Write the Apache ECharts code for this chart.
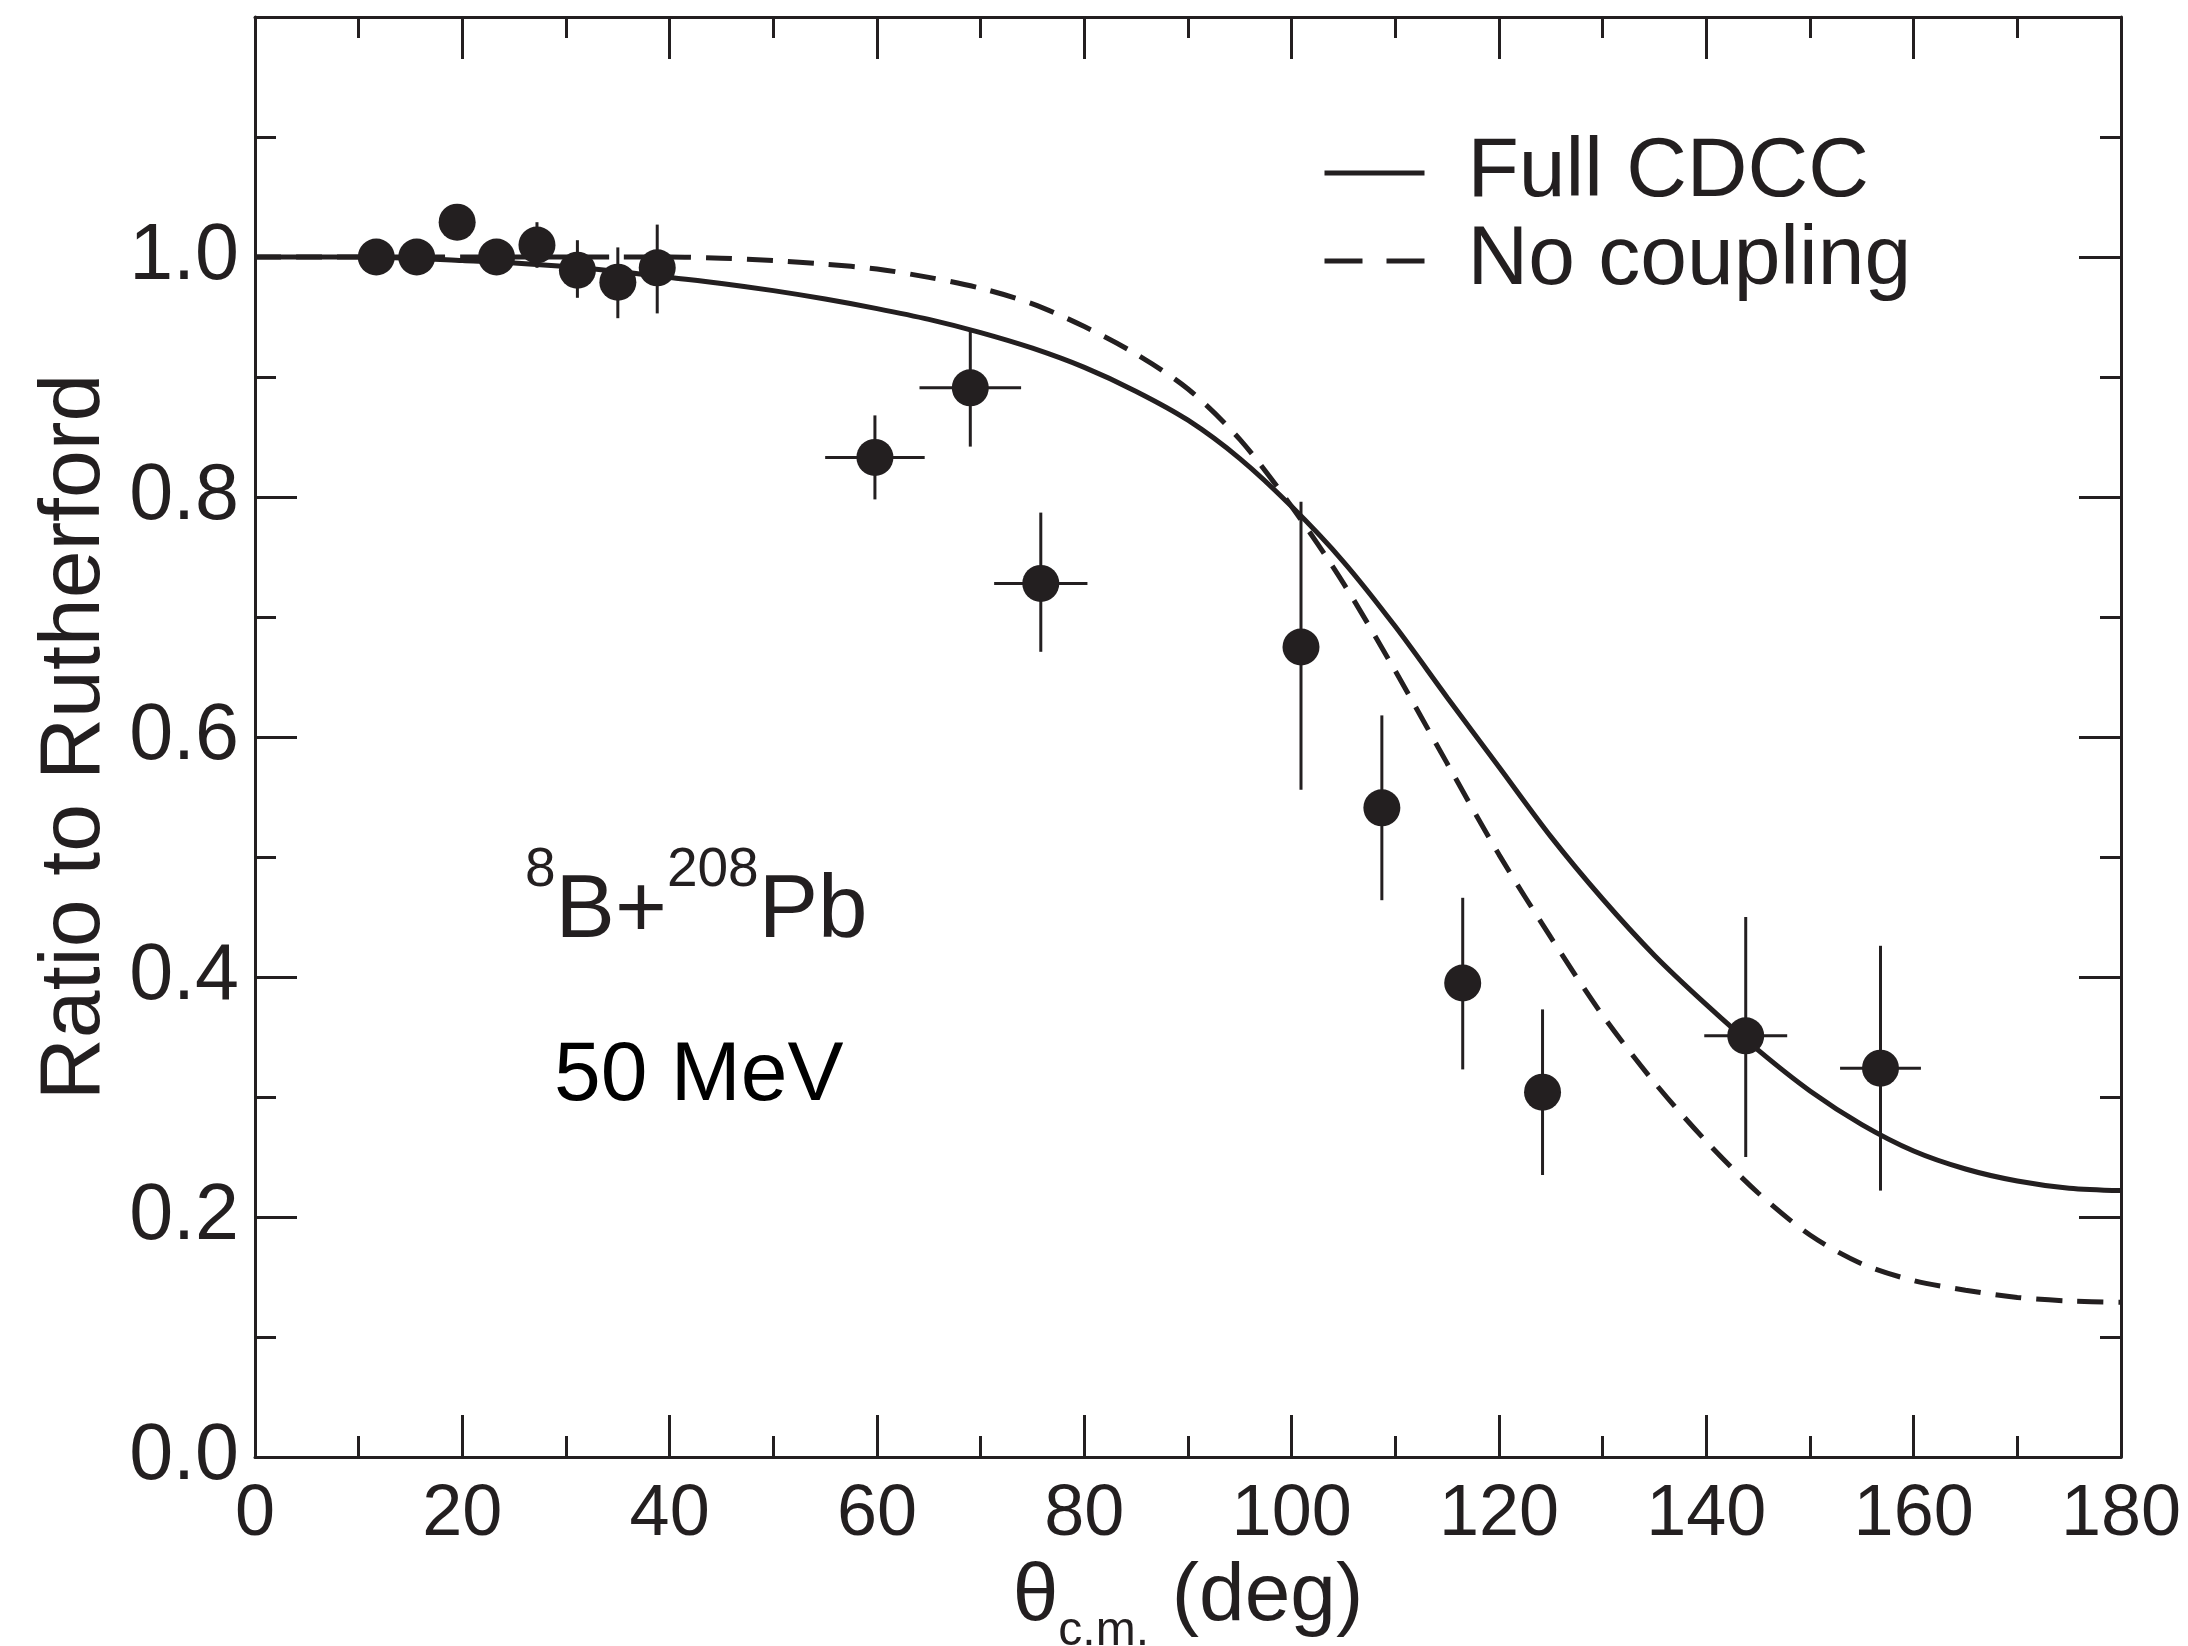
<!DOCTYPE html>
<html>
<head>
<meta charset="utf-8">
<script src="https://cdn.jsdelivr.net/npm/echarts@6/dist/echarts.min.js"></script>
<style>
  html, body { margin: 0; padding: 0; background: #fff; }
  #chart { width: 2188px; height: 1646px; }
</style>
</head>
<body>
<div id="chart"></div>
<script>
// ---- Data ----
const thetaExp  = [11.7, 15.6, 19.5, 23.3, 27.2, 31.1, 35.0, 38.8, 59.8, 69.0, 75.8, 100.9, 108.7, 116.5, 124.2, 143.8, 156.8];
const ratioExp  = [1.000, 1.000, 1.029, 1.000, 1.010, 0.989, 0.979, 0.991, 0.833, 0.891, 0.728, 0.675, 0.541, 0.395, 0.304, 0.351, 0.324];
const ratioLow  = [1.000, 1.000, 1.029, 1.000, 0.991, 0.966, 0.949, 0.953, 0.798, 0.842, 0.671, 0.556, 0.464, 0.323, 0.235, 0.250, 0.222];
const ratioHigh = [1.000, 1.000, 1.029, 1.000, 1.029, 1.014, 1.008, 1.027, 0.868, 0.939, 0.787, 0.796, 0.618, 0.466, 0.373, 0.450, 0.426];
const thetaErr  = [0, 0, 1.5, 0, 0, 0, 0, 0, 4.8, 4.9, 4.5, 0, 0, 0, 0, 4.0, 3.9];

const thetaCurve = [0, 5, 10, 15, 20, 25, 30, 35, 40, 45, 50, 55, 60, 65, 70, 75, 80, 85, 90, 95, 100, 105, 110, 115, 120, 125, 130, 135, 140, 145, 150, 155, 160, 165, 170, 175, 180];
const fullCDCC   = [1.000, 1.000, 1.000, 0.999, 0.997, 0.995, 0.992, 0.988, 0.983, 0.978, 0.972, 0.965, 0.957, 0.948, 0.937, 0.924, 0.908, 0.888, 0.864, 0.832, 0.792, 0.746, 0.692, 0.633, 0.575, 0.517, 0.465, 0.418, 0.377, 0.339, 0.305, 0.277, 0.255, 0.240, 0.230, 0.224, 0.222];
const noCoupling = [1.000, 1.000, 1.000, 1.000, 1.000, 1.000, 1.000, 1.000, 1.000, 0.999, 0.997, 0.994, 0.990, 0.983, 0.974, 0.961, 0.942, 0.919, 0.890, 0.848, 0.792, 0.728, 0.655, 0.578, 0.502, 0.433, 0.368, 0.312, 0.263, 0.220, 0.185, 0.161, 0.147, 0.139, 0.133, 0.130, 0.129];

const xTicks = { min: 0, max: 180, interval: 20 };
const yTicks = { min: 0, max: 1.2, interval: 0.2 };

// ---- Chart ----
const ink = '#231f20';
const FF = 'Liberation Sans';
const chart = echarts.init(document.getElementById('chart'), null, { renderer: 'canvas' });

const tickStyle = { color: ink, width: 3 };
function makeX(pos, showLabel, withName) {
  const ax = {
    type: 'value', position: pos, min: xTicks.min, max: xTicks.max, interval: xTicks.interval,
    axisLine: { show: true, onZero: false, lineStyle: tickStyle },
    axisTick: { show: true, inside: true, length: 42, lineStyle: tickStyle },
    minorTick: { show: true, splitNumber: 2, length: 21, lineStyle: tickStyle },
    splitLine: { show: false },
    axisLabel: { show: showLabel, fontSize: 72, margin: 22, color: ink, fontFamily: FF }
  };
  if (withName) {
    ax.name = '{t|θ}{s|c.m.}{t| (deg)}';
    ax.nameLocation = 'middle';
    ax.nameGap = 92;
    ax.nameTextStyle = {
      color: ink, fontFamily: FF, verticalAlign: 'top',
      rich: {
        t: { fontSize: 82, lineHeight: 82, verticalAlign: 'top', color: ink, fontFamily: FF },
        s: { fontSize: 48, lineHeight: 48, padding: [52, 0, 0, 0], verticalAlign: 'top', color: ink, fontFamily: FF }
      }
    };
  }
  return ax;
}
function makeY(pos, showLabel, withName) {
  const ax = {
    type: 'value', position: pos, min: yTicks.min, max: yTicks.max, interval: yTicks.interval,
    axisLine: { show: true, onZero: false, lineStyle: tickStyle },
    axisTick: { show: true, inside: true, length: 42, lineStyle: tickStyle },
    minorTick: { show: true, splitNumber: 2, length: 21, lineStyle: tickStyle },
    splitLine: { show: false },
    axisLabel: {
      show: showLabel, fontSize: 79, margin: 16, color: ink, fontFamily: FF,
      formatter: v => (v > 1.1 ? '' : v.toFixed(1))
    }
  };
  if (withName) {
    ax.name = 'Ratio to Rutherford';
    ax.nameLocation = 'middle';
    ax.nameGap = 136;
    ax.nameTextStyle = { fontSize: 86, color: ink, fontFamily: FF };
  }
  return ax;
}

const option = {
  backgroundColor: '#fff',
  animation: false,
  grid: { left: 255, right: 67, top: 17, bottom: 189, containLabel: false, outerBoundsMode: 'none' },
  xAxis: [makeX('bottom', true, true), makeX('top', false, false)],
  yAxis: [makeY('left', true, true), makeY('right', false, false)],
  legend: {
    show: true, orient: 'vertical', left: 1317, top: 126, itemGap: 4,
    itemWidth: 100, itemHeight: 30,
    itemStyle: { color: 'rgba(0,0,0,0)', borderColor: 'rgba(0,0,0,0)', borderWidth: 0 },
    lineStyle: { width: 5, color: ink },
    formatter: name => '{n|' + name + '}',
    textStyle: {
      color: ink, fontFamily: FF, fontSize: 84,
      rich: { n: { fontSize: 84, lineHeight: 90, padding: [0, 0, 0, 38], color: ink, fontFamily: FF } }
    },
    data: [
      { name: 'Full CDCC' },
      { name: 'No coupling', lineStyle: { type: [38, 24], width: 5, color: ink } }
    ]
  },
  title: [
    {
      text: '{sup|8}{m|B+}{sup|208}{m|Pb}', left: 520, top: 838,
      textStyle: {
        fontWeight: 'normal',
        rich: {
          sup: { fontSize: 55, lineHeight: 55, fontWeight: 'normal', verticalAlign: 'top', color: ink, fontFamily: FF },
          m: { fontSize: 89, lineHeight: 114, fontWeight: 'normal', verticalAlign: 'bottom', color: ink, fontFamily: FF }
        }
      }
    },
    {
      text: '50 MeV', left: 549, top: 1030,
      textStyle: { fontSize: 84, fontWeight: 'normal', color: '#000', fontFamily: FF, lineHeight: 84 }
    }
  ],
  series: [
    {
      name: 'Full CDCC', type: 'line', xAxisIndex: 0, yAxisIndex: 0,
      data: thetaCurve.map((t, i) => [t, fullCDCC[i]]),
      smooth: 0.3, symbol: 'none',
      lineStyle: { color: ink, width: 5, type: 'solid' }, itemStyle: { color: ink }, z: 3
    },
    {
      name: 'No coupling', type: 'line', xAxisIndex: 0, yAxisIndex: 0,
      data: thetaCurve.map((t, i) => [t, noCoupling[i]]),
      smooth: 0.3, symbol: 'none',
      lineStyle: { color: ink, width: 5, type: [26, 15] }, itemStyle: { color: ink }, z: 3
    },
    {
      name: 'errors', type: 'custom', xAxisIndex: 0, yAxisIndex: 0,
      data: thetaExp.map((t, i) => [t, ratioExp[i], ratioLow[i], ratioHigh[i], thetaErr[i]]),
      encode: { x: 0, y: 1 },
      renderItem: function (params, api) {
        const x = api.value(0), y = api.value(1), lo = api.value(2), hi = api.value(3), xe = api.value(4);
        const children = [];
        if (hi > lo) {
          const a = api.coord([x, lo]), b = api.coord([x, hi]);
          children.push({ type: 'line', shape: { x1: a[0], y1: a[1], x2: b[0], y2: b[1] }, style: { stroke: ink, lineWidth: 3 } });
        }
        if (xe > 0) {
          const a = api.coord([x - xe, y]), b = api.coord([x + xe, y]);
          children.push({ type: 'line', shape: { x1: a[0], y1: a[1], x2: b[0], y2: b[1] }, style: { stroke: ink, lineWidth: 3 } });
        }
        return { type: 'group', children: children };
      },
      z: 4
    },
    {
      name: 'data', type: 'scatter', xAxisIndex: 0, yAxisIndex: 0,
      data: thetaExp.map((t, i) => [t, ratioExp[i]]),
      symbol: 'circle', symbolSize: 37,
      itemStyle: { color: ink, opacity: 1 }, z: 5
    }
  ]
};
chart.setOption(option);
</script>
</body>
</html>
